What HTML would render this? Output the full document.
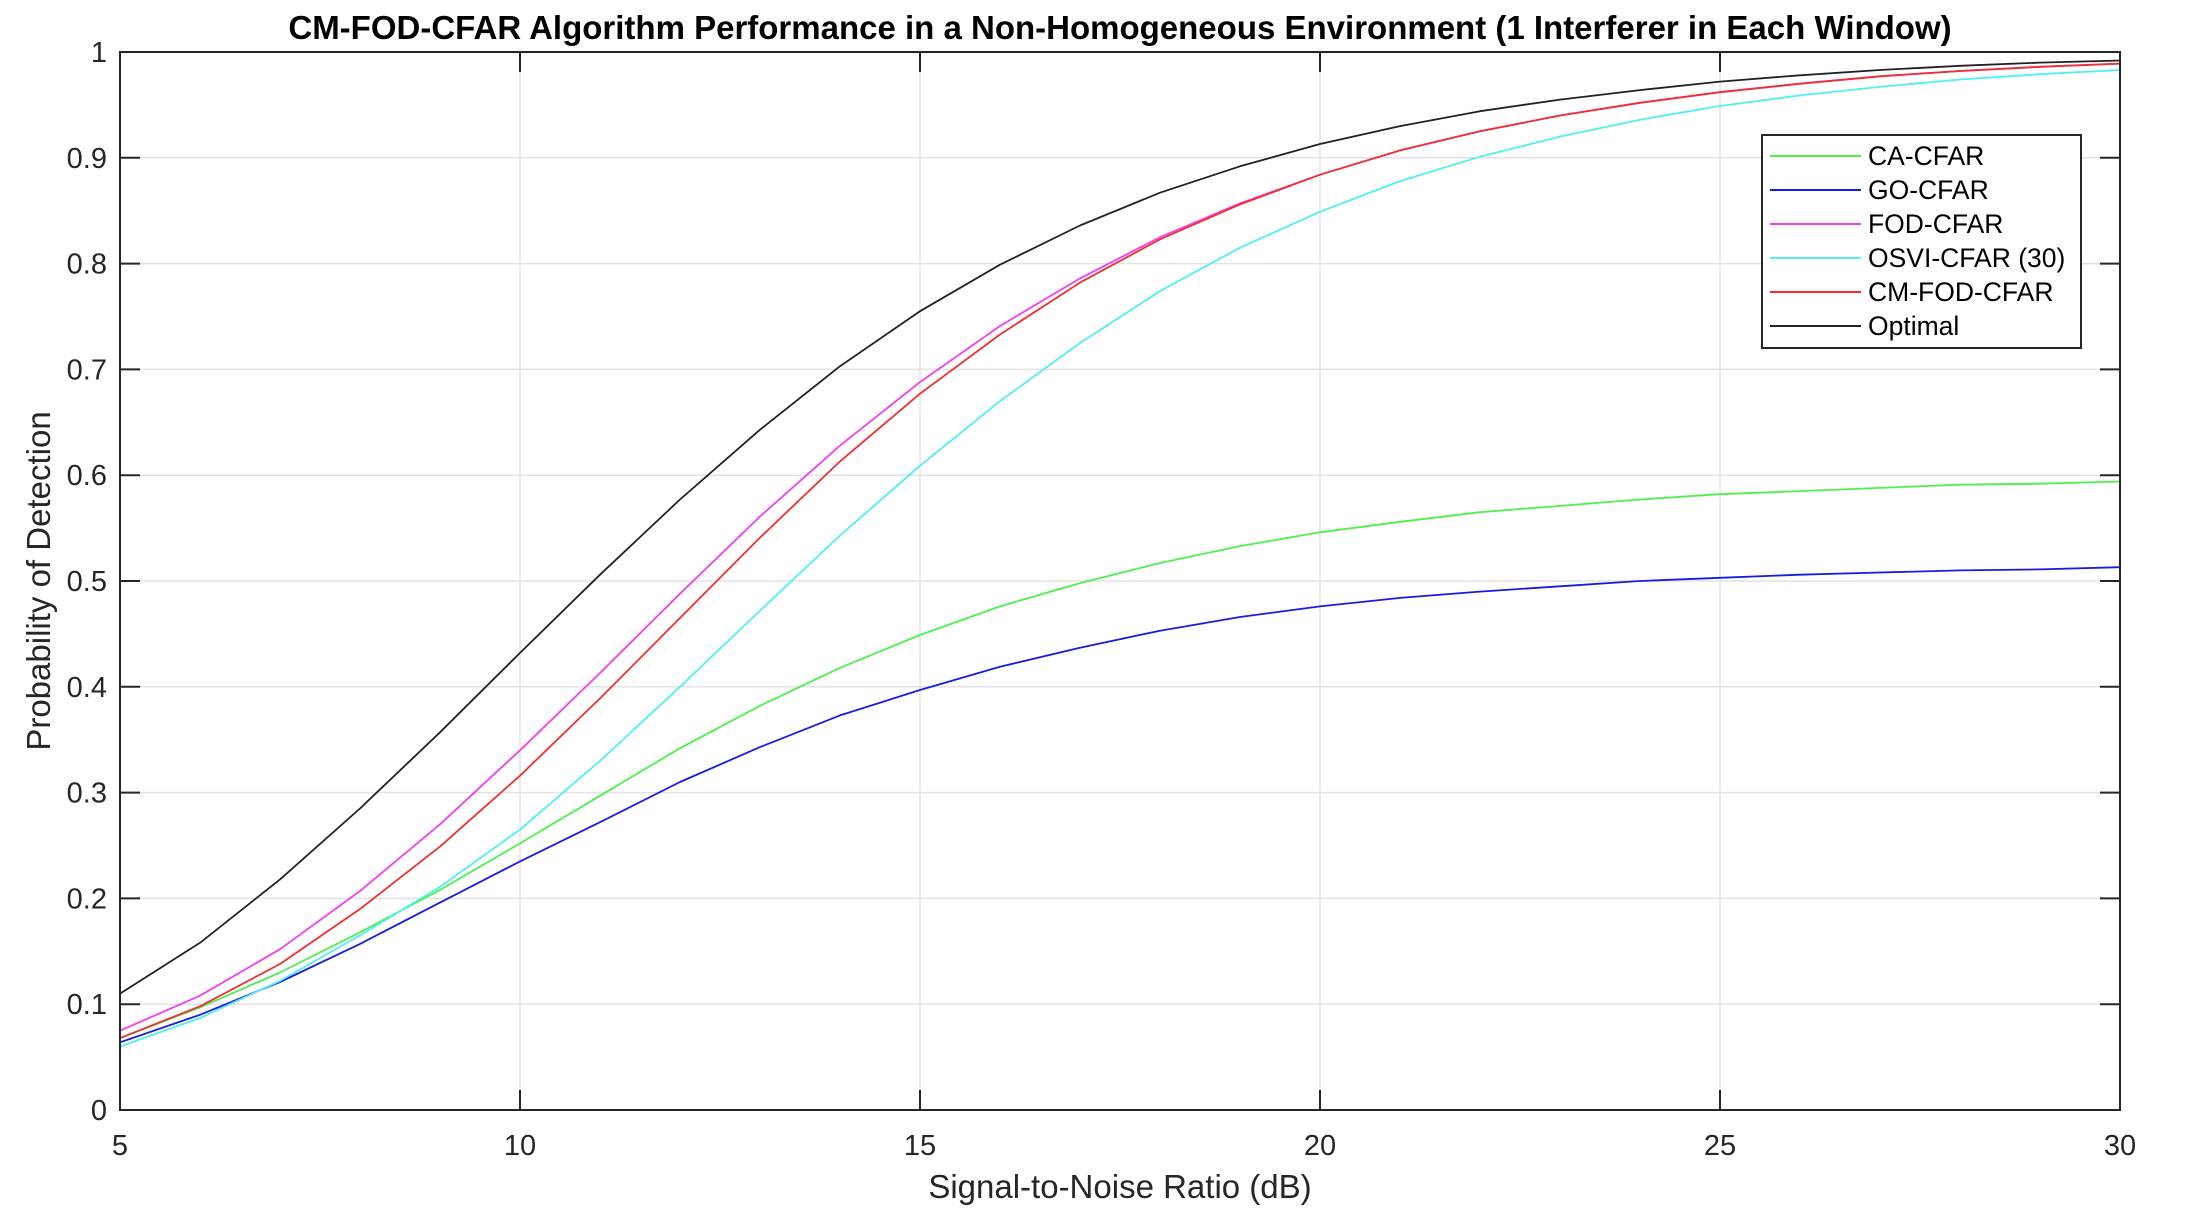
<!DOCTYPE html>
<html><head><meta charset="utf-8"><style>
html,body{margin:0;padding:0;background:#fff;}
svg{display:block;font-family:"Liberation Sans",Arial,sans-serif;}
</style></head><body>
<svg id="chart" width="2196" height="1220" viewBox="0 0 2196 1220" xmlns="http://www.w3.org/2000/svg">
<rect width="2196" height="1220" fill="#fff"/>
<g id="grid"></g><g id="series"></g><g id="axes"></g><g id="legend"></g>
</svg>
<script>
const snr = [5,6,7,8,9,10,11,12,13,14,15,16,17,18,19,20,21,22,23,24,25,26,27,28,29,30];
const caCfar = [0.068,0.097,0.13,0.168,0.208,0.252,0.297,0.342,0.382,0.418,0.449,0.476,0.498,0.517,0.533,0.546,0.556,0.565,0.571,0.577,0.582,0.585,0.588,0.591,0.592,0.594];
const goCfar = [0.064,0.09,0.121,0.157,0.196,0.235,0.272,0.31,0.343,0.373,0.397,0.419,0.437,0.453,0.466,0.476,0.484,0.49,0.495,0.5,0.503,0.506,0.508,0.51,0.511,0.513];
const fodCfar = [0.075,0.108,0.152,0.207,0.27,0.34,0.413,0.488,0.561,0.628,0.688,0.741,0.786,0.825,0.857,0.884,0.907,0.925,0.94,0.952,0.962,0.97,0.977,0.982,0.986,0.989];
const osviCfar = [0.06,0.087,0.122,0.165,0.211,0.265,0.33,0.4,0.472,0.543,0.609,0.67,0.725,0.774,0.815,0.849,0.878,0.901,0.92,0.936,0.949,0.959,0.967,0.974,0.979,0.983];
const cmFodCfar = [0.068,0.098,0.138,0.19,0.249,0.316,0.389,0.465,0.541,0.613,0.677,0.733,0.782,0.823,0.856,0.884,0.907,0.925,0.94,0.952,0.962,0.97,0.977,0.982,0.986,0.989];
const optimal = [0.11,0.158,0.218,0.285,0.357,0.432,0.506,0.577,0.643,0.703,0.755,0.799,0.836,0.867,0.892,0.913,0.93,0.944,0.955,0.964,0.972,0.978,0.983,0.987,0.99,0.992];
const xTicks = [5,10,15,20,25,30];
const yTicks = [0,0.1,0.2,0.3,0.4,0.5,0.6,0.7,0.8,0.9,1];
const yTickLabels = ["0","0.1","0.2","0.3","0.4","0.5","0.6","0.7","0.8","0.9","1"];
const seriesNames = ["CA-CFAR","GO-CFAR","FOD-CFAR","OSVI-CFAR (30)","CM-FOD-CFAR","Optimal"];
const seriesColors = ["#4ef04e","#1a1ae6","#f040f0","#50f0f0","#f03030","#222222"];
const seriesData = [caCfar,goCfar,fodCfar,osviCfar,cmFodCfar,optimal];

const L=120,R=2120,T=52,B=1110;
const xs=v=>L+(v-5)/25*(R-L);
const ys=v=>B-v*(B-T);
const NS="http://www.w3.org/2000/svg";
function mk(tag,parent,attrs){const e=document.createElementNS(NS,tag);for(const k in attrs)e.setAttribute(k,attrs[k]);parent.appendChild(e);return e;}
const svg=document.getElementById('chart');
const grid=document.getElementById('grid'),series=document.getElementById('series'),axes=document.getElementById('axes'),legend=document.getElementById('legend');

xTicks.forEach(t=>{
  const g=mk('line',grid,{x1:xs(t),x2:xs(t),y1:T,y2:B,stroke:'#e3e3e3','stroke-width':1.5});
  
  
  const tk=mk('line',axes,{x1:xs(t),x2:xs(t),y1:B,y2:B-20,stroke:'#262626','stroke-width':2});
  
  
  const tk2=mk('line',axes,{x1:xs(t),x2:xs(t),y1:T,y2:T+20,stroke:'#262626','stroke-width':2});
  
  
  const tx=mk('text',axes,{x:xs(t),y:B+45,'text-anchor':'middle','font-size':29,fill:'#262626'});
  tx.textContent=t;
  
  
});
yTicks.forEach((t,i)=>{
  const g=mk('line',grid,{x1:L,x2:R,y1:ys(t),y2:ys(t),stroke:'#e3e3e3','stroke-width':1.5});
  
  
  const tk=mk('line',axes,{x1:L,x2:L+20,y1:ys(t),y2:ys(t),stroke:'#262626','stroke-width':2});
  
  
  const tk2=mk('line',axes,{x1:R,x2:R-20,y1:ys(t),y2:ys(t),stroke:'#262626','stroke-width':2});
  
  
  const tx=mk('text',axes,{x:L-13,y:ys(t)+10,'text-anchor':'end','font-size':29,fill:'#262626'});
  tx.textContent=yTickLabels[i];
  
  
});
const box=mk('rect',axes,{x:L,y:T,width:R-L,height:B-T,fill:'none',stroke:'#262626','stroke-width':2});



seriesData.forEach((d,i)=>{
  const pts=d.map((v,j)=>xs(snr[j]).toFixed(1)+','+ys(v).toFixed(1)).join(' ');
  const p=mk('polyline',series,{points:pts,fill:'none',stroke:seriesColors[i],'stroke-width':1.8,'stroke-linejoin':'round'});
  
  
});

const title=mk('text',svg,{x:1120,y:39,'text-anchor':'middle','font-size':33,'font-weight':'bold',fill:'#000'});
title.textContent='CM-FOD-CFAR Algorithm Performance in a Non-Homogeneous Environment (1 Interferer in Each Window)';


const xl=mk('text',svg,{x:1120,y:1198,'text-anchor':'middle','font-size':33,fill:'#262626'});
xl.textContent='Signal-to-Noise Ratio (dB)';


const yl=mk('text',svg,{x:0,y:0,'text-anchor':'middle','font-size':33,fill:'#262626',transform:'translate(50,581) rotate(-90)'});
yl.textContent='Probability of Detection';



const lb=mk('rect',legend,{x:1762,y:135,width:319,height:213,fill:'#fff',stroke:'#262626','stroke-width':2});


seriesNames.forEach((n,i)=>{
  const y=156+i*34;
  const g=mk('g',legend,{});
  
  
  mk('line',g,{x1:1770,x2:1861,y1:y,y2:y,stroke:seriesColors[i],'stroke-width':2});
  const t=mk('text',g,{x:1868,y:y+9,'font-size':26.5,fill:'#000'});
  t.textContent=n;
});
</script>
</body></html>
